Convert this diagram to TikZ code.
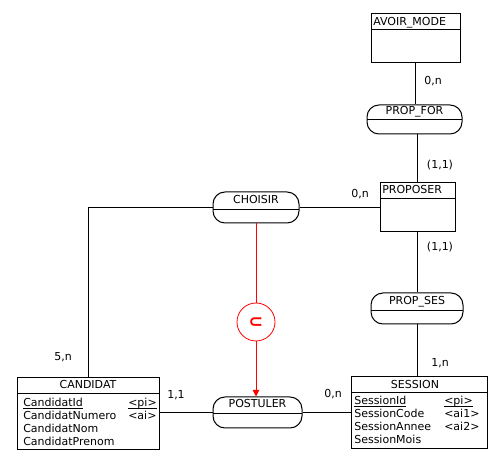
\documentclass[tikz,border=0pt]{standalone}
\usepackage{fontspec}
\setmainfont{DejaVu Sans}
\usetikzlibrary{arrows.meta}
\newcommand{\myul}[1]{{\setbox0\hbox{#1}\rlap{\rule[-1.3pt]{\wd0}{0.6pt}}\box0}}
\begin{document}
\begin{tikzpicture}[x=0.75pt,y=-0.75pt,
  every node/.style={font=\fontsize{8.25pt}{10pt}\selectfont, text=black, inner sep=0pt},
  entity/.style={draw, line width=0.75pt, rectangle},
  assoc/.style={draw, line width=0.75pt, rectangle, rounded corners=9pt},
  link/.style={line width=0.75pt},
  redlink/.style={line width=0.75pt, red},
  card/.style={anchor=center},
  attr/.style={anchor=west, text height=6.2pt, text depth=1.8pt},
  subcirc/.style={draw=red, line width=0.6pt, circle, minimum size=28.5pt}
]
\useasboundingbox (0,0) rectangle (500,466);

% Entities
\node[entity, minimum width=66.75pt, minimum height=36.75pt] (avoir) at (415.5,38.5) {};
\draw[link] (371,30) -- (460,30);
\node[attr] (avoirT) at (373,22.5) {AVOIR\_MODE};

\node[entity, minimum width=56.25pt, minimum height=36.75pt] (proposer) at (417.5,207.5) {};
\draw[link] (380,199) -- (455,199);
\node[attr] (proposerT) at (382,191) {PROPOSER};

\node[entity, minimum width=106.5pt, minimum height=54pt] (cand) at (88,414) {};
\draw[link] (17,394) -- (159,394);
\node[anchor=center, text height=6.2pt, text depth=1.8pt] (candT) at (88,386) {CANDIDAT};
\node[attr] (c1) at (23,404) {\myul{CandidatId}};
\node[attr] (c2) at (23,417) {CandidatNumero};
\node[attr] (c3) at (23,430) {CandidatNom};
\node[attr] (c4) at (23,443) {CandidatPrenom};
\node[attr] (c1b) at (128,404) {\myul{<pi>}};
\node[attr] (c2b) at (128,417) {<ai>};

\node[entity, minimum width=102pt, minimum height=54pt] (session) at (419,413) {};
\draw[link] (351,393) -- (487,393);
\node[anchor=center, text height=6.2pt, text depth=1.8pt] (sessionT) at (415,385.5) {SESSION};
\node[attr] (s1) at (354,402) {\myul{SessionId}};
\node[attr] (s2) at (354,415) {SessionCode};
\node[attr] (s3) at (354,428) {SessionAnnee};
\node[attr] (s4) at (354,441) {SessionMois};
\node[attr] (s1b) at (444,402) {\myul{<pi>}};
\node[attr] (s2b) at (444,415) {<ai1>};
\node[attr] (s3b) at (444,428) {<ai2>};

% Associations
\node[assoc, minimum width=71.25pt, minimum height=21.75pt] (propfor) at (414.5,119.5) {};
\draw[link] (367,120) -- (462,120);
\node[anchor=center, text height=6.2pt, text depth=1.8pt] (propforT) at (414.5,112) {PROP\_FOR};

\node[assoc, minimum width=64.5pt, minimum height=23.25pt] (choisir) at (256,207.5) {};
\draw[link] (213,210) -- (299,210);
\node[anchor=center, text height=6.2pt, text depth=1.8pt] (choisirT) at (256,201) {CHOISIR};

\node[assoc, minimum width=69pt, minimum height=23.25pt] (propses) at (417,308.5) {};
\draw[link] (371,311) -- (463,311);
\node[anchor=center, text height=6.2pt, text depth=1.8pt] (propsesT) at (417,302) {PROP\_SES};

\node[assoc, minimum width=66.75pt, minimum height=23.25pt] (postuler) at (257.5,412.5) {};
\draw[link] (213,414) -- (302,414);
\node[anchor=center, text height=6.2pt, text depth=1.8pt] (postulerT) at (257.5,405) {POSTULER};

% Subset constraint
\node[subcirc] (sub) at (256,322) {};
\node[text=red, font=\fontsize{13pt}{13pt}\bfseries\selectfont] (subT) at (256,323) {⊂};

% Connectors
\draw[link] (avoir.south) -- (avoir.south |- propfor.north);
\draw[link] (proposer.north) -- (proposer.north |- propfor.south);
\draw[link] (choisir.east) -- (choisir.east -| proposer.west);
\draw[link] (proposer.south) -- (proposer.south |- propses.north);
\draw[link] (propses.south) -- (propses.south |- session.north);
\draw[link] (cand.north) |- (choisir.west);
\draw[link] (cand.east |- postuler.west) -- (postuler.west);
\draw[link] (postuler.east) -- (postuler.east -| session.west);
\draw[redlink] (choisir.south) -- (choisir.south |- sub.north);
\draw[redlink, -{Triangle[length=5pt,width=5pt]}] (sub.south) -- (sub.south |- postuler.north);

% Cardinalities
\node[card] (k1) at (433,81) {0,n};
\node[card] (k2) at (440,165) {(1,1)};
\node[card] (k3) at (360,194) {0,n};
\node[card] (k4) at (440,247) {(1,1)};
\node[card] (k5) at (440,363) {1,n};
\node[card] (k6) at (63,357) {5,n};
\node[card] (k7) at (176,395) {1,1};
\node[card] (k8) at (333,394) {0,n};
\end{tikzpicture}
\end{document}
